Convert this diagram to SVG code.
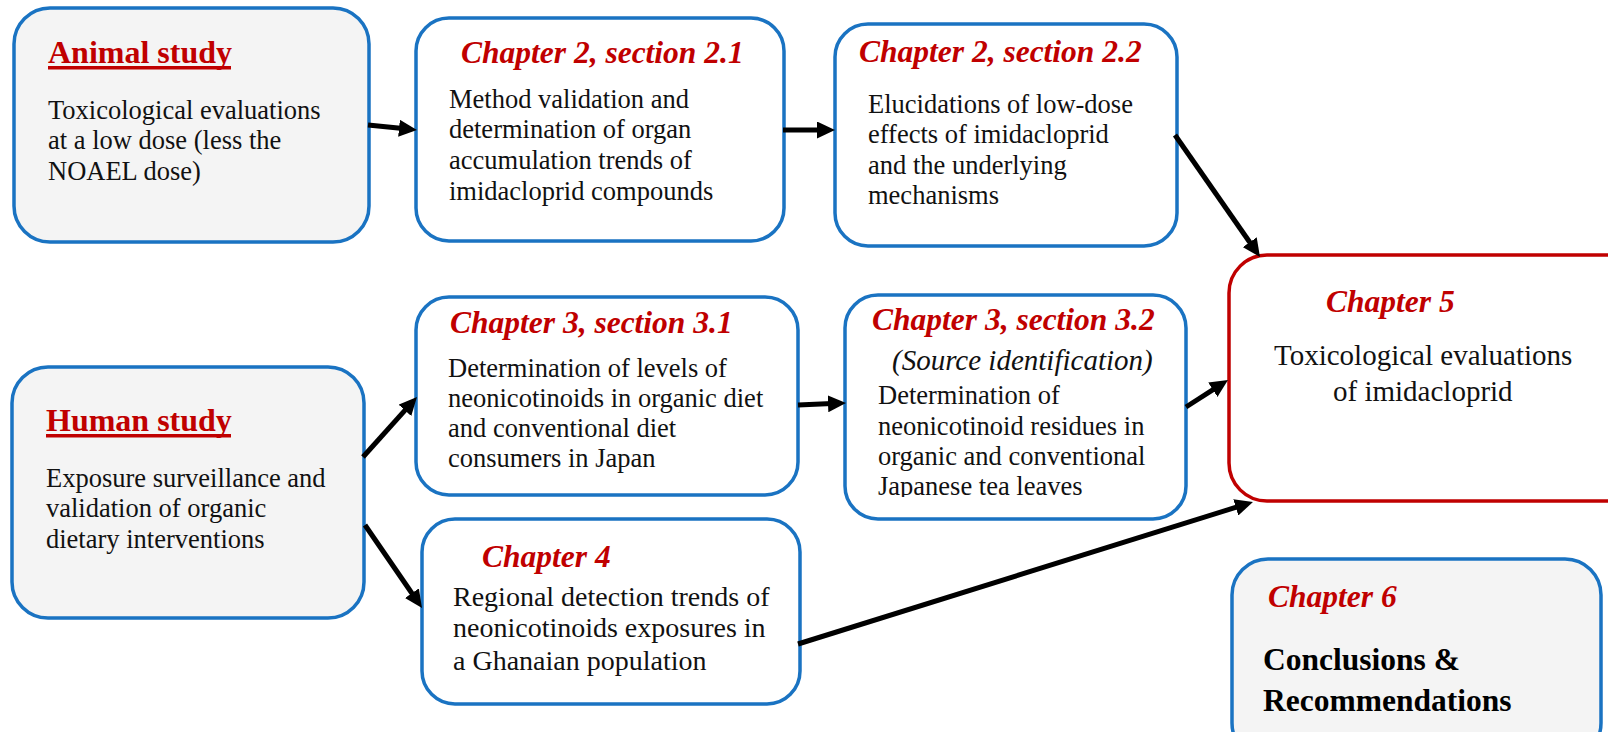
<svg xmlns="http://www.w3.org/2000/svg" width="1608" height="732" viewBox="0 0 1608 732">
<style>
.box{fill:#ffffff;stroke:#1a73c2;stroke-width:3.5}
.grey{fill:#f4f4f4}
.redbox{fill:#ffffff;stroke:#c00000;stroke-width:3.5}
.head{font-family:"Liberation Serif","Times New Roman",serif;font-weight:bold;font-size:32px;fill:#c00000}
.ch{font-family:"Liberation Serif","Times New Roman",serif;font-weight:bold;font-style:italic;font-size:31.5px;fill:#c00000}
.body{font-family:"Liberation Serif","Times New Roman",serif;font-size:26.5px;fill:#111111}
.big{font-size:29px}
.mid{font-size:28px}
.it{font-family:"Liberation Serif","Times New Roman",serif;font-style:italic;font-size:29px;fill:#111111}
.bold{font-family:"Liberation Serif","Times New Roman",serif;font-weight:bold;font-size:31.5px;fill:#000000}
.ul{fill:#c00000}
.arr{stroke:#000000;stroke-width:5;fill:none;marker-end:url(#ah)}
</style>
<defs>
<marker id="ah" markerUnits="userSpaceOnUse" markerWidth="18" markerHeight="17" refX="4" refY="8.5" orient="auto">
<path d="M0,0 L18,8.5 L0,17 Z" fill="#000000"/>
</marker>
<clipPath id="clip32"><rect x="845" y="295" width="341" height="202"/></clipPath>
</defs>
<rect x="0" y="0" width="1608" height="732" fill="#ffffff"/>

<g id="animal">
<rect class="box grey" x="14" y="8" width="355" height="234" rx="36"/>
<text class="head" x="48" y="63">Animal study</text>
<rect class="ul" x="48" y="66" width="183" height="3.5"/>
<text class="body" x="48" y="119">Toxicological evaluations</text>
<text class="body" x="48" y="149">at a low dose (less the</text>
<text class="body" x="48" y="180">NOAEL dose)</text>
</g>

<g id="ch21">
<rect class="box" x="416" y="18" width="368" height="223" rx="33"/>
<text class="ch" x="461" y="63">Chapter 2, section 2.1</text>
<text class="body" x="449" y="108">Method validation and</text>
<text class="body" x="449" y="138">determination of organ</text>
<text class="body" x="449" y="169">accumulation trends of</text>
<text class="body" x="449" y="200">imidacloprid compounds</text>
</g>

<g id="ch22">
<rect class="box" x="835" y="24" width="342" height="222" rx="33"/>
<text class="ch" x="859" y="62">Chapter 2, section 2.2</text>
<text class="body" x="868" y="113">Elucidations of low-dose</text>
<text class="body" x="868" y="143">effects of imidacloprid</text>
<text class="body" x="868" y="174">and the underlying</text>
<text class="body" x="868" y="204">mechanisms</text>
</g>

<g id="human">
<rect class="box grey" x="12" y="367" width="352" height="251" rx="36"/>
<text class="head" x="46" y="431">Human study</text>
<rect class="ul" x="46" y="434" width="185" height="3.5"/>
<text class="body" x="46" y="487">Exposure surveillance and</text>
<text class="body" x="46" y="517">validation of organic</text>
<text class="body" x="46" y="548">dietary interventions</text>
</g>

<g id="ch31">
<rect class="box" x="416" y="297" width="382" height="198" rx="33"/>
<text class="ch" x="450" y="333">Chapter 3, section 3.1</text>
<text class="body" x="448" y="377">Determination of levels of</text>
<text class="body" x="448" y="407">neonicotinoids in organic diet</text>
<text class="body" x="448" y="437">and conventional diet</text>
<text class="body" x="448" y="467">consumers in Japan</text>
</g>

<g id="ch32">
<rect class="box" x="845" y="295" width="341" height="224" rx="33"/>
<text class="ch" x="872" y="330">Chapter 3, section 3.2</text>
<text class="it" x="892" y="370">(Source identification)</text>
<text class="body" x="878" y="404">Determination of</text>
<text class="body" x="878" y="435">neonicotinoid residues in</text>
<text class="body" x="878" y="465">organic and conventional</text>
<text class="body" x="878" y="495" clip-path="url(#clip32)">Japanese tea leaves</text>
</g>

<g id="ch4">
<rect class="box" x="422" y="519" width="378" height="185" rx="33"/>
<text class="ch" x="482" y="567">Chapter 4</text>
<text class="body mid" x="453" y="606">Regional detection trends of</text>
<text class="body mid" x="453" y="637">neonicotinoids exposures in</text>
<text class="body mid" x="453" y="670">a Ghanaian population</text>
</g>

<g id="ch5">
<rect class="redbox" x="1229" y="255" width="420" height="246" rx="38"/>
<text class="ch" x="1326" y="312">Chapter 5</text>
<text class="body big" x="1274" y="365">Toxicological evaluations</text>
<text class="body big" x="1333" y="401">of imidacloprid</text>
</g>

<g id="ch6">
<rect class="box grey" x="1232" y="559" width="369" height="200" rx="36"/>
<text class="ch" x="1268" y="607">Chapter 6</text>
<text class="bold" x="1263" y="670">Conclusions &amp;</text>
<text class="bold" x="1263" y="711">Recommendations</text>
</g>

<g id="connectors">
<line class="arr" x1="368" y1="125" x2="403" y2="128.6"/>
<line class="arr" x1="783" y1="130" x2="821" y2="130"/>
<line class="arr" x1="1175" y1="135" x2="1252" y2="245.5"/>
<line class="arr" x1="363" y1="457" x2="407.6" y2="407.4"/>
<line class="arr" x1="365" y1="525" x2="414.1" y2="596.5"/>
<line class="arr" x1="798" y1="405" x2="832" y2="403.6"/>
<line class="arr" x1="1186" y1="407" x2="1216.2" y2="387.6"/>
<line class="arr" x1="798" y1="644" x2="1239.6" y2="506.2"/>
</g>
</svg>
